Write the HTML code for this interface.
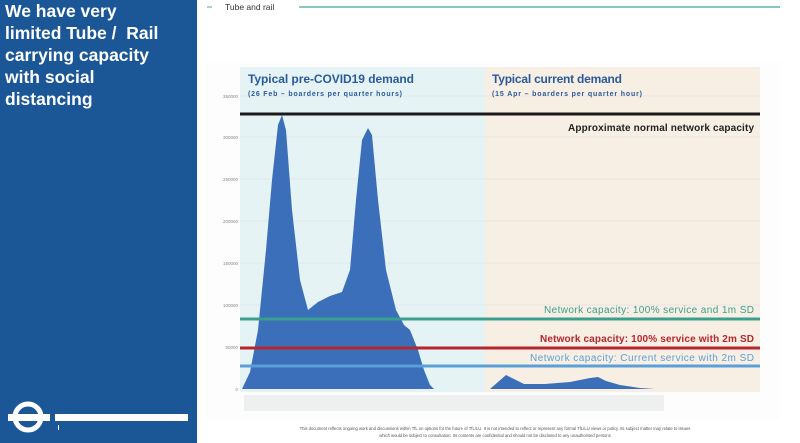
<!DOCTYPE html>
<html><head><meta charset="utf-8"><style>
body{margin:0;width:800px;height:443px;overflow:hidden;background:#fff;font-family:"Liberation Sans",sans-serif;position:relative}
.l{position:absolute;left:0;top:0;width:197px;height:443px;background:#1b5797}
.t{position:absolute;left:5px;top:0px;color:#fff;font-weight:bold;font-size:17.5px;line-height:22px}
</style></head><body>
<div class="l"></div>
<div class="t">We have very<br>limited Tube / &nbsp;Rail<br>carrying capacity<br>with social<br>distancing</div>
<svg width="800" height="443" style="position:absolute;left:0;top:0">
<circle cx="28" cy="417" r="13" fill="none" stroke="#fff" stroke-width="5"/>
<rect x="8" y="414" width="42" height="7" fill="#fff"/>
<rect x="55" y="414" width="133" height="7" fill="#fff"/>
<rect x="58" y="425" width="1" height="5" fill="#fff"/>
<line x1="207" y1="7" x2="212" y2="7" stroke="#4aa" stroke-width="1"/>
<text x="225" y="10" font-size="8.5" fill="#333">Tube and rail</text>
<line x1="299" y1="7" x2="780" y2="7" stroke="#5cb5b0" stroke-width="1.5"/>
<rect x="205" y="62" width="575" height="358" fill="#fdfdfd"/>
<rect x="240" y="67" width="245" height="325" fill="#e6f3f5"/>
<rect x="485" y="67" width="275" height="325" fill="#f8efe4"/>
<g stroke="#d8dde0" stroke-width="0.5">
<line x1="240" y1="96" x2="760" y2="96"/><line x1="240" y1="137" x2="760" y2="137"/><line x1="240" y1="179" x2="760" y2="179"/><line x1="240" y1="221" x2="760" y2="221"/><line x1="240" y1="263" x2="760" y2="263"/><line x1="240" y1="305" x2="760" y2="305"/></g>
<g font-size="4.5" fill="#888" text-anchor="end">
<text x="238" y="98">350000</text><text x="238" y="139">300000</text><text x="238" y="181">250000</text><text x="238" y="223">200000</text><text x="238" y="265">150000</text><text x="238" y="307">100000</text><text x="238" y="349">50000</text><text x="238" y="391">0</text></g>
<text x="248" y="83" font-size="12" font-weight="bold" fill="#2a5a9a" textLength="166">Typical pre-COVID19 demand</text>
<text x="248" y="96" font-size="7" font-weight="bold" fill="#2a5a9a" textLength="154">(26 Feb – boarders per quarter hours)</text>
<text x="492" y="83" font-size="12" font-weight="bold" fill="#2a5a9a" textLength="130">Typical current demand</text>
<text x="492" y="96" font-size="7" font-weight="bold" fill="#2a5a9a" textLength="150">(15 Apr – boarders per quarter hour)</text>
<path d="M242,389 L250,372 L258,330 L266,250 L272,180 L278,125 L282,115 L286,130 L292,210 L300,280 L308,310 L318,302 L330,296 L342,292 L350,270 L356,200 L362,140 L368,128 L372,135 L378,200 L386,270 L396,310 L404,325 L410,330 L418,350 L424,370 L430,385 L434,389 Z" fill="#3b6fba"/>
<path d="M490,389 L498,382 L506,375 L514,379 L524,384 L545,384 L570,382 L590,378 L598,377 L606,381 L620,385 L640,388 L655,389 Z" fill="#3b6fba"/>
<line x1="240" y1="114" x2="760" y2="114" stroke="#1a1a1a" stroke-width="3"/>
<text x="754" y="131" font-size="10" font-weight="bold" fill="#222" text-anchor="end" textLength="186">Approximate normal network capacity</text>
<line x1="240" y1="319" x2="760" y2="319" stroke="#3a9f8f" stroke-width="3"/>
<text x="754" y="313" font-size="10" fill="#3a9f8f" text-anchor="end" textLength="210">Network capacity: 100% service and 1m SD</text>
<line x1="240" y1="348" x2="760" y2="348" stroke="#b5262e" stroke-width="3"/>
<text x="754" y="342" font-size="10" font-weight="bold" fill="#b5262e" text-anchor="end" textLength="214">Network capacity: 100% service with 2m SD</text>
<line x1="240" y1="366" x2="760" y2="366" stroke="#5a9fd8" stroke-width="3"/>
<text x="754" y="361" font-size="10" fill="#5a9fd8" text-anchor="end" textLength="224">Network capacity: Current service with 2m SD</text>
<rect x="244" y="395" width="420" height="16" fill="#eef0f0"/>
<text x="495" y="430" font-size="4.2" fill="#555" text-anchor="middle">This document reflects ongoing work and discussions within TfL on options for the future of TfL/LU. It is not intended to reflect or represent any formal TfL/LU views or policy. Its subject matter may relate to issues</text>
<text x="495" y="437" font-size="4.2" fill="#555" text-anchor="middle">which would be subject to consultation. Its contents are confidential and should not be disclosed to any unauthorised persons</text>
</svg>
</body></html>
